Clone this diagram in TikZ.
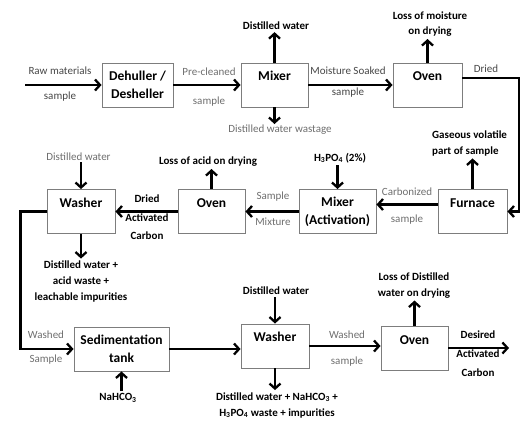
\documentclass[tikz,border=0pt]{standalone}
\usepackage{fontspec}
\setmainfont{Carlito}
\usepackage{xcolor}
\usepackage{tikz}
\usetikzlibrary{arrows.meta, calc}
\definecolor{boxgray}{RGB}{125,125,125}
\definecolor{labgray}{RGB}{110,110,110}
\definecolor{labdark}{RGB}{70,70,70}
\tikzset{
    unit/.style={rectangle, draw=boxgray, line width=0.9pt, fill=white,
        minimum height=44pt, inner sep=2pt, align=center,
        font=\fontsize{13.5}{18}\selectfont\bfseries},
    oneline/.style={text height=9pt, text depth=18pt},
    stream/.style={text=labgray, align=center, inner sep=1pt,
        font=\fontsize{11}{13}\selectfont},
    note/.style={align=center, inner sep=2pt,
        font=\fontsize{11}{16}\selectfont\bfseries},
    arrow/.style={line width=2.3pt, -{Straight Barb[length=5pt,width=11pt]}}
}

\begin{document}
\begin{tikzpicture}[x=1pt, y=-1pt]
\useasboundingbox (0,0) rectangle (521,421);
% first row
\node[unit, minimum width=71pt] (dehuller) at (137.5,85) {Dehuller /\\Desheller};
\node[unit, oneline, minimum width=67pt] (mixer1) at (274.5,85) {Mixer};
\node[unit, oneline, minimum width=69pt] (oven1) at (427.5,85) {Oven};
% second row
\node[unit, oneline, minimum width=68pt] (washer2) at (81,211.5) {Washer};
\node[unit, oneline, minimum width=67pt] (oven2) at (211.5,211.5) {Oven};
\node[unit, minimum width=77pt] (mixer2) at (337.5,211.5) {Mixer\\(Activation)};
\node[unit, oneline, minimum width=69pt] (furnace) at (472.5,211.5) {Furnace};
% third row
\node[unit, minimum width=95pt] (sed) at (121.5,349) {Sedimentation\\tank};
\node[unit, oneline, minimum width=68pt] (washer3) at (275,346) {Washer};
\node[unit, oneline, minimum width=67pt] (oven3) at (414.5,348.5) {Oven};

% labels on the main stream
\node[stream, text=labdark] (rawtxt) at (60,84.5) {Raw materials\\[12pt]sample};
\node[stream] (precltxt) at (209,87.5) {Pre-cleaned\\[16pt]sample};
\node[stream, text=labdark] (soaktxt) at (348,82.5) {Moisture Soaked\\[8pt]sample};
\node[stream, text=labdark] (driedtxt) at (486,69) {Dried};
\node[stream] (carbtxt) at (407,206.5) {Carbonized\\[14pt]sample};
\node[stream] (mixtxt) at (273,209) {Sample\\[13pt]Mixture};
\node[note] (actctxt) at (147,217.5) {Dried\\[2.5pt]Activated\\[2.5pt]Carbon};
\node[stream] (washtxt1) at (46,348) {Washed\\[11pt]Sample};
\node[stream] (washtxt2) at (347,349) {Washed\\[13pt]sample};
\node[note] (desired) at (478,354) {Desired\\[3pt]Activated\\[3pt]Carbon};

% inputs and losses
\node[note] (dwin1) at (276,26) {Distilled water};
\node[stream] (dwout1) at (280,130) {Distilled water wastage};
\node[note] (moist) at (430,24.5) {Loss of moisture\\[-1pt]on drying};
\node[note, align=left, anchor=west] (gastxt) at (430,143.5) {Gaseous volatile\\part of sample};
\node[note] (h3po4) at (340,158) {H\textsubscript{3}PO\textsubscript{4} (2\%)};
\node[note] (acidloss) at (208,162) {Loss of acid on drying};
\node[stream] (dwin2) at (78.5,157) {Distilled water};
\node[note] (waste2) at (81,281.5) {Distilled water +\\acid waste +\\leachable impurities};
\node[note] (nahco) at (118,398) {NaHCO\textsubscript{3}};
\node[note] (dwin3) at (276,291) {Distilled water};
\node[note] (waste3) at (277,405) {Distilled water + NaHCO\textsubscript{3} +\\H\textsubscript{3}PO\textsubscript{4} waste + impurities};
\node[note] (dwloss) at (414,285.5) {Loss of Distilled\\water on drying};

\coordinate (rawin) at (25,85);
\coordinate (drybend) at (519,78);
\coordinate (product) at (509,348);

% main stream
\draw[arrow] (rawin) -- (dehuller);
\draw[arrow] (dehuller) -- (mixer1);
\draw[arrow] (mixer1) -- (oven1);
\draw[arrow] (oven1.east |- drybend) -- (drybend) |- (furnace.east);
\draw[arrow] ([yshift=7pt]furnace.west) -- ([yshift=7pt]mixer2.east);
\draw[arrow] (mixer2) -- (oven2);
\draw[arrow] (oven2) -- (washer2);
\draw[arrow] (washer2.west) -- ++(-26,0) |- (sed.west);
\draw[arrow] (sed.east) -- (sed.east -| washer3.west);
\draw[arrow] (washer3.east) -- (washer3.east -| oven3.west);
\draw[arrow] (oven3.east |- product) -- (product);

% side streams
\draw[arrow] (mixer1.north) -- (mixer1.north |- dwin1.south);
\draw[arrow] (mixer1.south) -- (mixer1.south |- dwout1.north);
\draw[arrow] (oven1.north) -- (oven1.north |- moist.south);
\draw[arrow] (furnace.north) -- (furnace.north |- gastxt.south);
\draw[arrow] (mixer2.north |- h3po4.south) -- (mixer2.north);
\draw[arrow] (oven2.north) -- (oven2.north |- acidloss.south);
\draw[arrow] (washer2.north |- dwin2.south) -- (washer2.north);
\draw[arrow] (washer2.south) -- (washer2.south |- waste2.north);
\draw[arrow] (sed.south |- nahco.north) -- (sed.south);
\draw[arrow] (washer3.north |- dwin3.south) -- (washer3.north);
\draw[arrow] (washer3.south) -- (washer3.south |- waste3.north);
\draw[arrow] (oven3.north) -- (oven3.north |- dwloss.south);
\end{tikzpicture}
\end{document}
